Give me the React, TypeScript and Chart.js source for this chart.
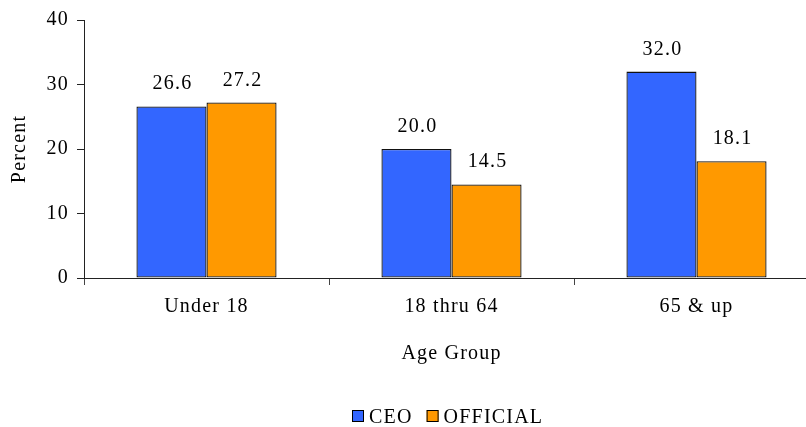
import React, { useEffect, useRef } from "react";
import { Chart, registerables } from "chart.js";

Chart.register(...registerables);

const categories = ["Under 18", "18 thru 64", "65 & up"];
const ceoValues = [26.6, 20.0, 32.0];
const officialValues = [27.2, 14.5, 18.1];
const seriesNames = ["CEO", "OFFICIAL"];
const seriesColors = ["#3366FF", "#FF9900"];
const yTickValues = [0, 10, 20, 30, 40];
const xTitle = "Age Group";
const yTitle = "Percent";

const FONT_FAMILY = "'Liberation Serif', 'Times New Roman', serif";
const FONT_SIZE = 20;
const SPACING = "1.2px";

const spacingPlugin = {
  id: "letterSpacing",
  beforeUpdate(chart: any) {
    chart.ctx.letterSpacing = SPACING;
  },
  beforeDraw(chart: any) {
    chart.ctx.letterSpacing = SPACING;
  },
};

const valueLabelPlugin = {
  id: "valueLabels",
  afterDatasetsDraw(chart: any) {
    const ctx = chart.ctx;
    ctx.save();
    ctx.letterSpacing = SPACING;
    ctx.font = `${FONT_SIZE}px ${FONT_FAMILY}`;
    ctx.fillStyle = "#000";
    ctx.textAlign = "center";
    ctx.textBaseline = "alphabetic";
    chart.data.datasets.forEach((ds: any, i: number) => {
      const meta = chart.getDatasetMeta(i);
      meta.data.forEach((bar: any, j: number) => {
        const v = ds.data[j] as number;
        ctx.fillText(v.toFixed(1), bar.x + 1, bar.y - 17);
      });
    });
    ctx.restore();
  },
};

const legendPlugin = {
  id: "bottomLegend",
  afterDraw(chart: any) {
    const ctx = chart.ctx;
    ctx.save();
    ctx.letterSpacing = SPACING;
    ctx.font = `${FONT_SIZE}px ${FONT_FAMILY}`;
    const box = 12;
    const gapBoxText = 5;
    const gapItems = 14;
    const items = chart.data.datasets.map((ds: any) => ({
      label: ds.label as string,
      color: ds.backgroundColor as string,
      w: ctx.measureText(ds.label).width,
    }));
    let total = 0;
    items.forEach((it: any, i: number) => {
      total += box + gapBoxText + it.w + (i < items.length - 1 ? gapItems : 0);
    });
    const center = (chart.chartArea.left + chart.chartArea.right) / 2 - 4;
    let x = Math.round(center - total / 2);
    const boxTop = 410;
    const baseline = 423;
    items.forEach((it: any) => {
      ctx.fillStyle = it.color;
      ctx.fillRect(x, boxTop, box, box);
      ctx.strokeStyle = "#000";
      ctx.lineWidth = 1;
      ctx.strokeRect(x + 0.5, boxTop + 0.5, box - 1, box - 1);
      x += box + gapBoxText;
      ctx.fillStyle = "#000";
      ctx.textAlign = "left";
      ctx.textBaseline = "alphabetic";
      ctx.fillText(it.label, x, baseline);
      x += it.w + gapItems;
    });
    ctx.restore();
  },
};

export default function App() {
  const canvasRef = useRef<HTMLCanvasElement | null>(null);

  useEffect(() => {
    const canvas = canvasRef.current;
    if (!canvas) return;
    const font = { family: FONT_FAMILY, size: FONT_SIZE };
    const chart = new Chart(canvas, {
      type: "bar",
      data: {
        labels: categories,
        datasets: [
          {
            label: seriesNames[0],
            data: ceoValues,
            backgroundColor: seriesColors[0],
            borderColor: "#111",
            borderWidth: 1.3,
            borderSkipped: false,
            barPercentage: 1,
            categoryPercentage: 0.572,
          },
          {
            label: seriesNames[1],
            data: officialValues,
            backgroundColor: seriesColors[1],
            borderColor: "#111",
            borderWidth: 1.3,
            borderSkipped: false,
            barPercentage: 1,
            categoryPercentage: 0.572,
          },
        ],
      },
      options: {
        responsive: false,
        animation: false,
        events: [],
        layout: { padding: { top: 19, right: 11, left: 0, bottom: 0 } },
        plugins: {
          legend: { display: false },
          tooltip: { enabled: false },
        },
        scales: {
          x: {
            grid: {
              display: true,
              drawOnChartArea: false,
              drawTicks: true,
              tickLength: 7,
              color: "#444",
              offset: true,
            },
            border: { display: true, color: "#222", width: 1 },
            ticks: { color: "#000", font, padding: 10, maxRotation: 0 },
            title: {
              display: true,
              text: xTitle,
              color: "#000",
              font,
              padding: { top: 4, bottom: 61 },
            },
            afterFit: (scale: any) => {
              scale.height = 149;
            },
          },
          y: {
            min: 0,
            max: 40,
            grid: {
              display: true,
              drawOnChartArea: false,
              drawTicks: true,
              tickLength: 7,
              color: "#222",
            },
            border: { display: true, color: "#222", width: 1 },
            ticks: { color: "#000", font, padding: 8, stepSize: 10 },
            afterBuildTicks: (scale: any) => {
              scale.ticks = yTickValues.map((v) => ({ value: v }));
            },
            title: {
              display: true,
              text: yTitle,
              color: "#000",
              font,
              padding: { top: 8, bottom: 0 },
            },
            afterFit: (scale: any) => {
              scale.width = 84;
            },
          },
        },
      },
      plugins: [spacingPlugin, valueLabelPlugin, legendPlugin],
    });
    return () => {
      chart.destroy();
    };
  }, []);

  return (
    <div
      style={{
        position: "fixed",
        left: 0,
        top: 0,
        width: 806,
        height: 427,
        overflow: "hidden",
        background: "#fff",
      }}
    >
      <canvas
        ref={canvasRef}
        width={830}
        height={427}
        style={{ width: 830, height: 427, display: "block" }}
      />
    </div>
  );
}
